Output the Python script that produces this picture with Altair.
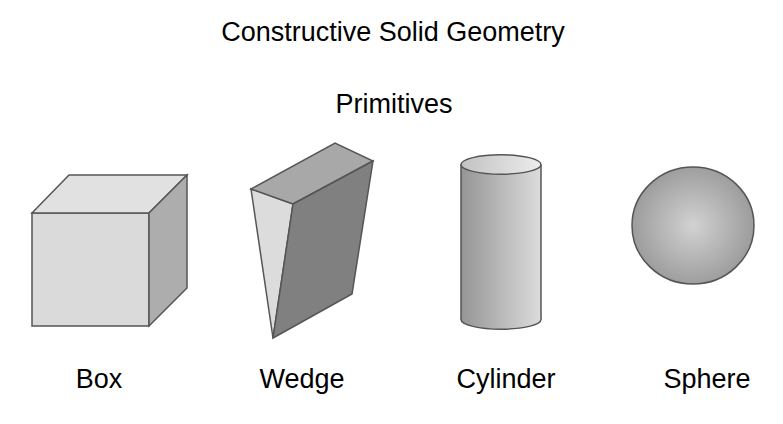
import pandas as pd
import altair as alt

# page pixel coordinates (the chart sits 8px in from the page corner)
TITLE = "Constructive Solid Geometry"
SUBTITLE = "Primitives"
LABELS = ["Box", "Wedge", "Cylinder", "Sphere"]
LABEL_X = [99, 302, 506, 707]
LABEL_Y = [388, 388, 388, 388]

BOX_FRONT_X = [32, 149, 149, 32]
BOX_FRONT_Y = [213, 213, 326, 326]
BOX_TOP_X = [32, 69, 187, 149]
BOX_TOP_Y = [213, 175, 175, 213]
BOX_SIDE_X = [149, 187, 187, 149]
BOX_SIDE_Y = [213, 175, 288, 326]

WEDGE_TOP_X = [251, 335, 373, 293]
WEDGE_TOP_Y = [189, 143, 161, 204]
WEDGE_LEFT_X = [251, 293, 273]
WEDGE_LEFT_Y = [189, 204, 338]
WEDGE_FRONT_X = [293, 373, 352, 273]
WEDGE_FRONT_Y = [204, 161, 294, 338]

CYL_X = [461, 541]
CYL_Y = [164.5, 319.5]   # top and bottom ellipse centres
CYL_RY = 9.7

SPHERE_X = [693]
SPHERE_Y = [225.5]
SPHERE_W, SPHERE_H = 122, 117

X0, X1, Y0, Y1 = 8, 775, 8, 416
STROKE = "#555555"


def X(field="x"):
    return alt.X(f"{field}:Q", scale=alt.Scale(domain=[X0, X1], nice=False, zero=False), axis=None)


def Y(field="y"):
    return alt.Y(f"{field}:Q", scale=alt.Scale(domain=[Y1, Y0], nice=False, zero=False), axis=None)


def face(xs, ys, fill):
    df = pd.DataFrame({"x": xs, "y": ys, "i": range(len(xs))})
    return alt.Chart(df).mark_line(
        interpolate="linear-closed", fill=fill, stroke=STROKE,
        strokeWidth=1.5, strokeJoin="miter"
    ).encode(x=X(), y=Y(), order="i:Q")


def ellipse_path(e):
    k = 0.5523
    return (f"M-1,0C-1,{-k*e} {-k},{-e} 0,{-e}C{k},{-e} 1,{-k*e} 1,0"
            f"C1,{k*e} {k},{e} 0,{e}C{-k},{e} -1,{k*e} -1,0Z")


def lin(c0, c1):
    return {"gradient": "linear", "x1": 0, "y1": 0, "x2": 1, "y2": 0,
            "stops": [{"offset": 0, "color": c0}, {"offset": 1, "color": c1}]}


layers = [
    face(BOX_FRONT_X, BOX_FRONT_Y, "#dadada"),
    face(BOX_TOP_X, BOX_TOP_Y, "#e1e1e1"),
    face(BOX_SIDE_X, BOX_SIDE_Y, "#adadad"),
    face(WEDGE_LEFT_X, WEDGE_LEFT_Y, "#dcdcdc"),
    face(WEDGE_TOP_X, WEDGE_TOP_Y, "#a8a8a8"),
    face(WEDGE_FRONT_X, WEDGE_FRONT_Y, "#808080"),
]

cw = CYL_X[1] - CYL_X[0]
cyl_cx = (CYL_X[0] + CYL_X[1]) / 2
ell = ellipse_path(2 * CYL_RY / cw)

# cylinder: bottom cap, body, sides, top cap
layers.append(
    alt.Chart(pd.DataFrame({"x": [cyl_cx], "y": [CYL_Y[1]]})).mark_point(
        shape=ell, size=cw ** 2, filled=True, opacity=1,
        fill=lin("#959595", "#dcdcdc"), stroke=STROKE, strokeWidth=1.5
    ).encode(x=X(), y=Y())
)
layers.append(
    alt.Chart(pd.DataFrame({"x": [CYL_X[0]], "x2": [CYL_X[1]],
                            "y": [CYL_Y[0]], "y2": [CYL_Y[1]]})).mark_rect(
        fill=lin("#959595", "#dcdcdc"), strokeWidth=0
    ).encode(x=X(), x2="x2:Q", y=Y(), y2="y2:Q")
)
layers.append(
    alt.Chart(pd.DataFrame({"x": CYL_X, "y": [CYL_Y[0]] * 2, "y2": [CYL_Y[1]] * 2}))
    .mark_rule(color=STROKE, strokeWidth=1.5)
    .encode(x=X(), y=Y(), y2="y2:Q")
)
layers.append(
    alt.Chart(pd.DataFrame({"x": [cyl_cx], "y": [CYL_Y[0]]})).mark_point(
        shape=ell, size=cw ** 2, filled=True, opacity=1,
        fill=lin("#c2c2c2", "#ececec"), stroke=STROKE, strokeWidth=1.5
    ).encode(x=X(), y=Y())
)

# sphere
layers.append(
    alt.Chart(pd.DataFrame({"x": SPHERE_X, "y": SPHERE_Y})).mark_point(
        shape=ellipse_path(SPHERE_H / SPHERE_W), size=SPHERE_W ** 2,
        filled=True, opacity=1, stroke=STROKE, strokeWidth=1.5,
        fill={"gradient": "radial", "x1": 0.5, "y1": 0.5, "r1": 0,
              "x2": 0.5, "y2": 0.5, "r2": 0.5,
              "stops": [{"offset": 0, "color": "#d2d2d2"},
                        {"offset": 1, "color": "#9c9c9c"}]}
    ).encode(x=X(), y=Y())
)

texts = pd.DataFrame({
    "t": [TITLE, SUBTITLE] + LABELS,
    "x": [393, 394] + LABEL_X,
    "y": [41, 113] + LABEL_Y,
})
layers.append(
    alt.Chart(texts).mark_text(
        font="Liberation Sans", fontSize=27, color="#000000",
        align="center", baseline="alphabetic"
    ).encode(x=X(), y=Y(), text="t:N")
)

chart = alt.layer(*layers).properties(
    width=X1 - X0, height=Y1 - Y0, padding=0,
    autosize=alt.AutoSizeParams(type="none")
).configure_view(stroke=None)

chart.save("out.html", embed_options={"renderer": "svg", "actions": False})
